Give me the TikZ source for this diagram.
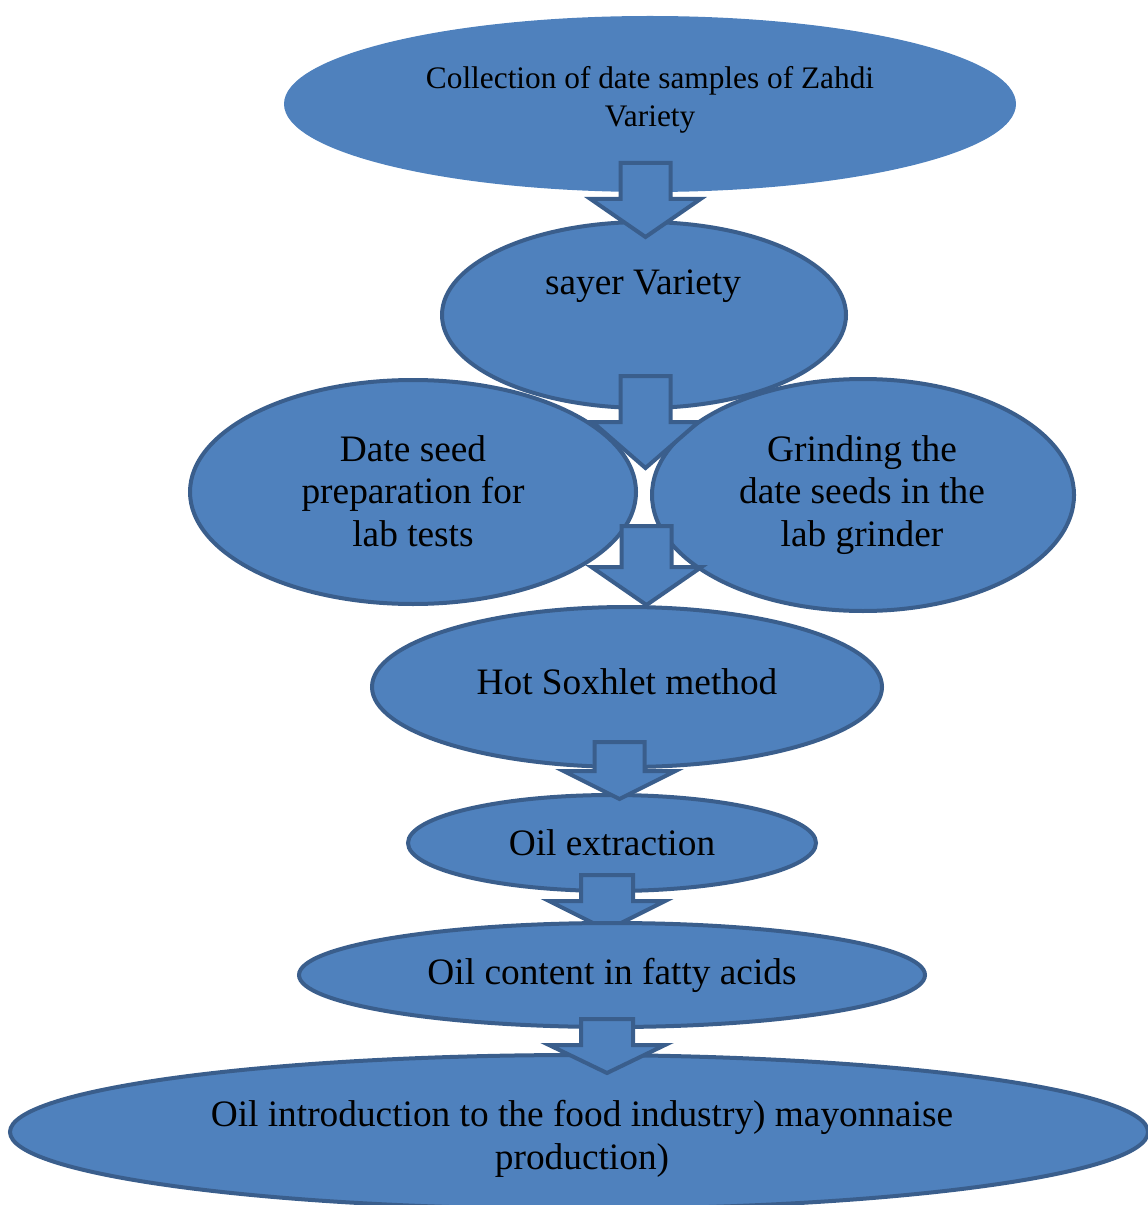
\documentclass[tikz,border=0pt]{standalone}
\usepackage{fontspec}
\setmainfont{Liberation Serif}
\usetikzlibrary{shapes.geometric}
\definecolor{efill}{HTML}{4F81BD}
\definecolor{eline}{HTML}{3A5E8C}
\newcommand{\blockarr}[7]{%
  \draw[barrow] (#2-#3,#4) coordinate (#1) -- (#2+#3,#4) -- (#2+#3,#5) -- (#2+#6,#5) -- (#2,#7) -- (#2-#6,#5) -- (#2-#3,#5) -- cycle;}
\tikzset{
  ell/.style 2 args={ellipse, fill=efill, draw=eline, line width=3pt, inner sep=0pt,
    minimum width=#1*1.5pt, minimum height=#2*1.5pt},
  barrow/.style={fill=efill, draw=eline, line width=3pt, line join=miter},
  big/.style={font=\fontsize{28}{32}\selectfont, align=center, text=black},
  small/.style={font=\fontsize{23.5}{28.5}\selectfont, align=center, text=black},
}
\begin{document}
\begin{tikzpicture}[x=0.75pt,y=-0.75pt]
\useasboundingbox (0,0) rectangle (1147,1205);
\node[ell={366}{88}, draw=none] (e1) at (650,104) {};
\node[small] (t1) at (650,100) {Collection of date samples of Zahdi\\Variety};
\node[ell={202}{93}] (e2) at (644,315) {};
\node[big] (t2) at (643,286) {sayer Variety};
\blockarr{a1}{645.5}{25}{163}{199}{55}{237}
\node[ell={223}{112}] (e3) at (413,492) {};
\node[ell={211}{116}] (e4) at (863,495) {};
\node[big] (t3) at (413,491) {Date seed\\preparation for\\lab tests};
\node[big] (t4) at (862,495) {Grinding the\\date seeds in the\\lab grinder};
\blockarr{a2}{645.5}{25}{376}{422}{53}{468}
\node[ell={255}{80}] (e5) at (627,687) {};
\node[big] (t5) at (627,682) {Hot Soxhlet method};
\blockarr{a3}{646.5}{25}{526}{567}{55}{605}
\node[ell={204}{48}] (e6) at (612,843) {};
\node[big] (t6) at (612,843) {Oil extraction};
\blockarr{a4}{619.5}{25}{742}{771}{56}{799}
\blockarr{a5}{607}{26}{875}{901}{58}{930}
\node[ell={313}{52}] (e7) at (612,975) {};
\node[big] (t7) at (612,975) {Oil content in fatty acids};
\node[ell={569}{77}] (e8) at (579,1132) {};
\node[big] (t8) at (582,1139) {Oil introduction to the food industry) mayonnaise\\production)};
\blockarr{a6}{607}{26}{1019}{1045}{58}{1073}
\end{tikzpicture}
\end{document}
